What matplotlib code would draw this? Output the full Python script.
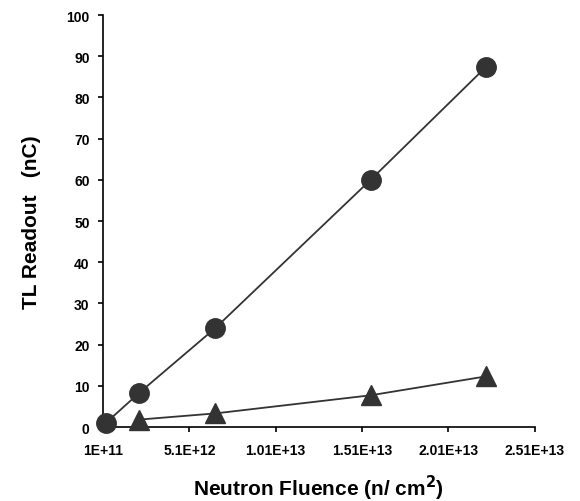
import numpy as np
import matplotlib.pyplot as plt

plt.rcParams['font.family'] = ['Liberation Sans', 'DejaVu Sans']

# data
fluence_circ = [2.7e11, 2.2e12, 6.6e12, 1.56e13, 2.23e13]
tl_circ = [1.0, 8.3, 24.0, 60.0, 87.5]

fluence_tri = [2.2e12, 6.6e12, 1.56e13, 2.23e13]
tl_tri = [1.8, 3.3, 7.7, 12.3]

xticks = [1e11, 5.1e12, 1.01e13, 1.51e13, 2.01e13, 2.51e13]
xtick_labels = ["1E+11", "5.1E+12", "1.01E+13", "1.51E+13", "2.01E+13", "2.51E+13"]
yticks = list(range(0, 101, 10))

col = '#333333'

fig = plt.figure(figsize=(5.8, 5.02), dpi=100)
ax = fig.add_axes([0.1776, 0.1474, 0.7444, 0.8207])

ax.plot(fluence_circ, tl_circ, '-', color=col, lw=1.3, marker='o', ms=14,
        mfc=col, mec=col, clip_on=False, zorder=3)
ax.plot(fluence_tri, tl_tri, '-', color=col, lw=1.3, marker='^', ms=15,
        mfc=col, mec=col, clip_on=False, zorder=3)

ax.set_xlim(1e11, 2.51e13)
ax.set_ylim(0, 100)
ax.set_xticks(xticks)
ax.set_xticklabels(xtick_labels)
ax.set_yticks(yticks)

for s in ['top', 'right']:
    ax.spines[s].set_visible(False)
for s in ['left', 'bottom']:
    ax.spines[s].set_linewidth(1.2)

ax.tick_params(direction='out', length=3.6, width=1.2, labelsize=10)
ax.tick_params(axis='x', pad=8)
ax.tick_params(axis='y', pad=6)
for lab in ax.get_xticklabels() + ax.get_yticklabels():
    lab.set_fontweight('bold')

ax.set_xlabel("Neutron Fluence (n/ cm$^{\\mathbf{2}}$)", fontsize=15, fontweight='bold', labelpad=11)
ax.set_ylabel("TL Readout   (nC)", fontsize=15, fontweight='bold', labelpad=18)

fig.savefig('out.png', dpi=100)
